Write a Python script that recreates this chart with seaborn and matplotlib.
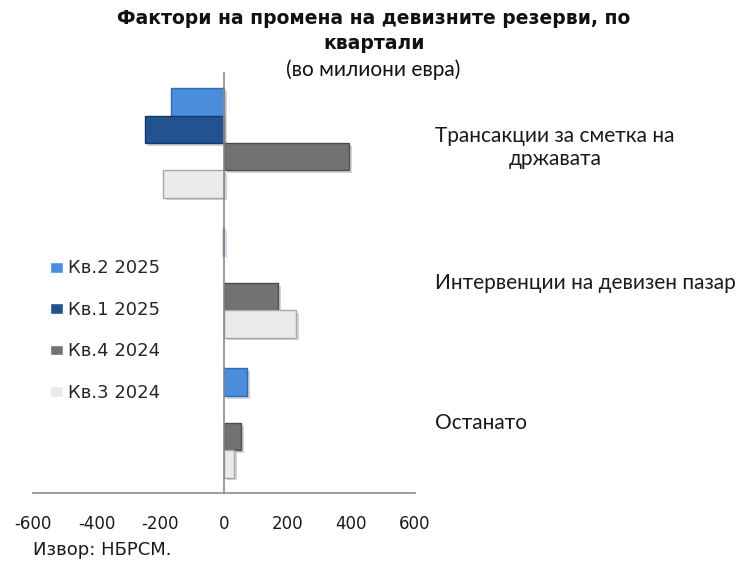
import matplotlib
matplotlib.use("Agg")
import matplotlib.pyplot as plt
import matplotlib.patheffects as pe
import seaborn as sns
import pandas as pd
from matplotlib.transforms import blended_transform_factory

categories = ["Трансакции за сметка на\nдржавата", "Интервенции на девизен пазар", "Останато"]
quarters = ["Кв.2 2025", "Кв.1 2025", "Кв.4 2024", "Кв.3 2024"]
q2_2025 = [-165, -3, 72]
q1_2025 = [-248, 0, 0]
q4_2024 = [393, 170, 53]
q3_2024 = [-192, 226, 31]
x_ticks = [-600, -400, -200, 0, 200, 400, 600]

face_colors = ["#4a8ddc", "#22528f", "#727272", "#ebebeb"]
edge_colors = ["#2f6cb4", "#163a68", "#4d4d4d", "#a8a8a8"]

rows = []
for q, vals in zip(quarters, [q2_2025, q1_2025, q4_2024, q3_2024]):
    for c, v in zip(categories, vals):
        rows.append({"category": c, "quarter": q, "value": v})
df = pd.DataFrame(rows)

sns.set_style("white")
plt.rcParams["font.family"] = ["DejaVu Sans"]
plt.rcParams["axes.unicode_minus"] = False

fig = plt.figure(figsize=(7.42, 5.74), dpi=100)
ax = fig.add_axes([0.0445, 0.141, 0.5145, 0.732])

sns.barplot(data=df, y="category", x="value", hue="quarter", order=categories,
            hue_order=quarters, palette=face_colors, width=0.78, orient="h",
            saturation=1, ax=ax, legend=True)

shadow = [pe.SimplePatchShadow(offset=(2, -2), alpha=0.25, shadow_rgbFace="#555555"), pe.Normal()]
for cont, ec in zip(ax.containers, edge_colors):
    for bar in cont:
        bar.set_edgecolor(ec)
        bar.set_linewidth(1.0)
        if bar.get_width() != 0:
            bar.set_path_effects(shadow)
        else:
            bar.set_visible(False)

ax.set_xlim(-600, 600)
ax.set_ylim(2.5, -0.5)
ax.set_xticks(x_ticks)
ax.set_xticklabels([str(t) for t in x_ticks], fontsize=12, color="#1a1a1a")
ax.set_yticks([-0.5, 0.5, 1.5, 2.5])
ax.set_yticklabels([])
ax.set_xlabel("")
ax.set_ylabel("")

for s in ["top", "right"]:
    ax.spines[s].set_visible(False)
ax.spines["left"].set_position(("data", 0))
for s in ["left", "bottom"]:
    ax.spines[s].set_color("#8c8c8c")
    ax.spines[s].set_linewidth(1.2)
ax.tick_params(axis="y", direction="in", length=5, width=1.2, color="#8c8c8c")
ax.tick_params(axis="x", direction="out", length=5, width=1.2, color="#8c8c8c", pad=11)

# category names sit to the right of the plotting area
trans = blended_transform_factory(ax.transAxes, ax.transData)
for i, c in enumerate(categories):
    ax.text(1.053, i + (0.03 if "\n" in c else 0), c, transform=trans, ha="left",
            va="center", fontsize=15, family="Lato", color="#1a1a1a",
            linespacing=1.2, multialignment="center", clip_on=False)

handles, labels = ax.get_legend_handles_labels()
ax.legend(handles, labels, loc="upper left", bbox_to_anchor=(0.068, 0.548),
          bbox_transform=fig.transFigure, frameon=False, fontsize=13,
          handlelength=0.7, handleheight=0.55, handletextpad=0.25,
          labelspacing=1.3, borderaxespad=0, borderpad=0)

fig.text(0.504, 0.968, "Фактори на промена на девизните резерви, по", ha="center",
         va="center", fontsize=13.5, fontweight="bold", color="#111111")
fig.text(0.504, 0.924, "квартали", ha="center", va="center", fontsize=13.5,
         fontweight="bold", color="#111111")
fig.text(0.503, 0.878, "(во милиони евра)", ha="center", va="center", fontsize=15,
         family="Lato", color="#111111")
fig.text(0.045, 0.042, "Извор: НБРСМ.", ha="left", va="center", fontsize=13,
         color="#1a1a1a")

fig.savefig("out.png", dpi=100)
